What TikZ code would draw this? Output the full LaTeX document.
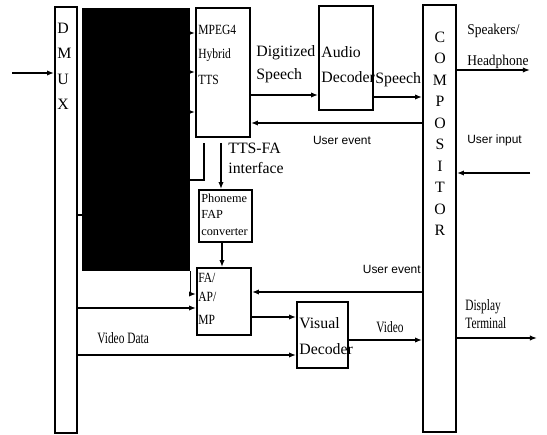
\documentclass[tikz,border=0pt]{standalone}
\usepackage{fontspec}
\setmainfont{Liberation Serif}
\newfontfamily\arialfont{Liberation Sans}
\usetikzlibrary{arrows.meta, fit, math}
\newcommand{\cnd}[2][0.75]{\scalebox{#1}[1]{#2}}

\begin{document}
\begin{tikzpicture}[x=0.02cm, y=-0.02cm,
  box/.style={draw, line width=1pt, inner sep=0pt},
  arr/.style={line width=0.8pt, -{Latex[length=4pt,width=3pt]}},
  wire/.style={line width=0.8pt},
  lbl/.style={anchor=west, inner sep=0pt, font=\fontsize{9}{10}\selectfont},
  small/.style={lbl, font=\fontsize{8}{9}\selectfont},
  tiny/.style={lbl, font=\fontsize{7}{8}\selectfont},
  sans/.style={inner sep=0pt, font=\arialfont\fontsize{6.8}{8}\selectfont}]
\tikzmath{
\dy=25.5;
\cy=21.5;
}
\useasboundingbox (0,0) rectangle (547,435);

%blocks
\node[box, fit={(55,7) (77,433)}] (dmux) {};
\node[fill=black, inner sep=0pt, fit={(82,8) (190,271)}] (black) {};
\node[box, fit={(196,8) (250,137)}] (mpeg) {};
\node[box, fit={(319,6) (373,110)}] (audio) {};
\node[box, fit={(423,5) (456,432)}] (comp) {};
\node[box, fit={(199,190) (252,242)}] (phon) {};
\node[box, fit={(197,268) (251,335)}] (fa) {};
\node[box, fit={(297,302) (348,368)}] (vis) {};

%letters
\foreach \c [count=\i] in {D,M,U,X}
  \node[lbl] (dmux\i) at (57,{28+\dy*(\i-1)}) {\c};
\foreach \c [count=\i] in {C,O,M,P,O,S,I,T,O,R}
  \node[lbl, anchor=center] (comp\i) at (440,{37+\cy*(\i-1)}) {\c};

%texts in boxes
\node[small] (mpegA) at (198,30) {\cnd[0.82]{MPEG4}};
\node[small] (mpegB) at (198,55) {\cnd[0.82]{Hybrid}};
\node[small] (mpegC) at (198,80) {\cnd[0.82]{TTS}};
\node[lbl] (audioA) at (321,52) {Audio};
\node[lbl] (audioB) at (321,77) {Decoder};
\node[tiny] (phonA) at (201,198) {Phoneme};
\node[tiny] (phonB) at (201,214) {FAP};
\node[tiny] (phonC) at (201,232) {converter};
\node[small] (faA) at (198,278) {\cnd[0.82]{FA/}};
\node[small] (faB) at (198,297) {\cnd[0.82]{AP/}};
\node[small] (faC) at (198,320) {\cnd[0.82]{MP}};
\node[lbl] (visA) at (299,323) {Visual};
\node[lbl] (visB) at (299,349) {Decoder};

%other texts
\node[lbl] (digA) at (256,53) {Digitized};
\node[lbl] (digB) at (256,76) {Speech};
\node[lbl] (speech) at (375,80) {Speech};
\node[lbl] (ttsA) at (228,148) {TTS-FA};
\node[lbl] (ttsB) at (228,168) {interface};
\node[sans] (ueA) at (342,140) {User event};
\node[sans, anchor=east] (ueB) at (421,269) {User event};
\node[sans, anchor=west] (uin) at (467,140) {User input};
\node[lbl, font=\fontsize{8.5}{9}\selectfont] (spkA) at (467,31) {\cnd[0.9]{Speakers/}};
\node[lbl, font=\fontsize{8.5}{9}\selectfont] (spkB) at (467,62) {\cnd[0.9]{Headphone}};
\node[lbl] (vdata) at (97,338) {\cnd[0.72]{Video Data}};
\node[lbl, anchor=center] (video) at (390,327) {\cnd[0.72]{Video}};
\node[lbl] (dispA) at (465,307) {\cnd[0.72]{Display}};
\node[lbl] (dispB) at (465,323) {\cnd[0.72]{Terminal}};

%free ends
\coordinate (in) at (12,73);
\coordinate (spk) at (530,70);
\coordinate (usr) at (530,173);
\coordinate (disp) at (537,338);
\coordinate (stub) at (204,143);
\coordinate (ttsfa) at (221,143);

%connectors
\draw[arr] (in) -- (dmux.west |- in);
\foreach \y in {33,72,112}
  \draw[arr] (black.east |- 0,\y) -- (mpeg.west |- 0,\y);
\draw[wire] (dmux.east |- 0,215) -- (black.west |- 0,215);
\draw[wire] (black.east |- 0,180) -| (stub);
\draw[arr] (ttsfa) -- (phon.north -| ttsfa);
\draw[arr] (phon.south -| 222,0) -- (fa.north -| 222,0);
\draw[arr] (black.south east) |- (fa.west |- 0,294);
\draw[arr] (dmux.east |- 0,308) -- (fa.west |- 0,308);
\draw[arr] (dmux.east |- 0,355) -- (vis.west |- 0,355);
\draw[arr] (fa.east |- 0,317) -- (vis.west |- 0,317);
\draw[arr] (vis.east |- 0,340) -- (comp.west |- 0,340);
\draw[arr] (comp.west |- 0,292) -- (fa.east |- 0,292);
\draw[arr] (mpeg.east |- 0,95) -- (audio.west |- 0,95);
\draw[arr] (audio.east |- 0,97) -- (comp.west |- 0,97);
\draw[arr] (comp.west |- 0,123) -- (mpeg.east |- 0,123);
\draw[arr] (comp.east |- spk) -- (spk);
\draw[arr] (usr) -- (comp.east |- usr);
\draw[arr] (comp.east |- disp) -- (disp);
\end{tikzpicture}
\end{document}
